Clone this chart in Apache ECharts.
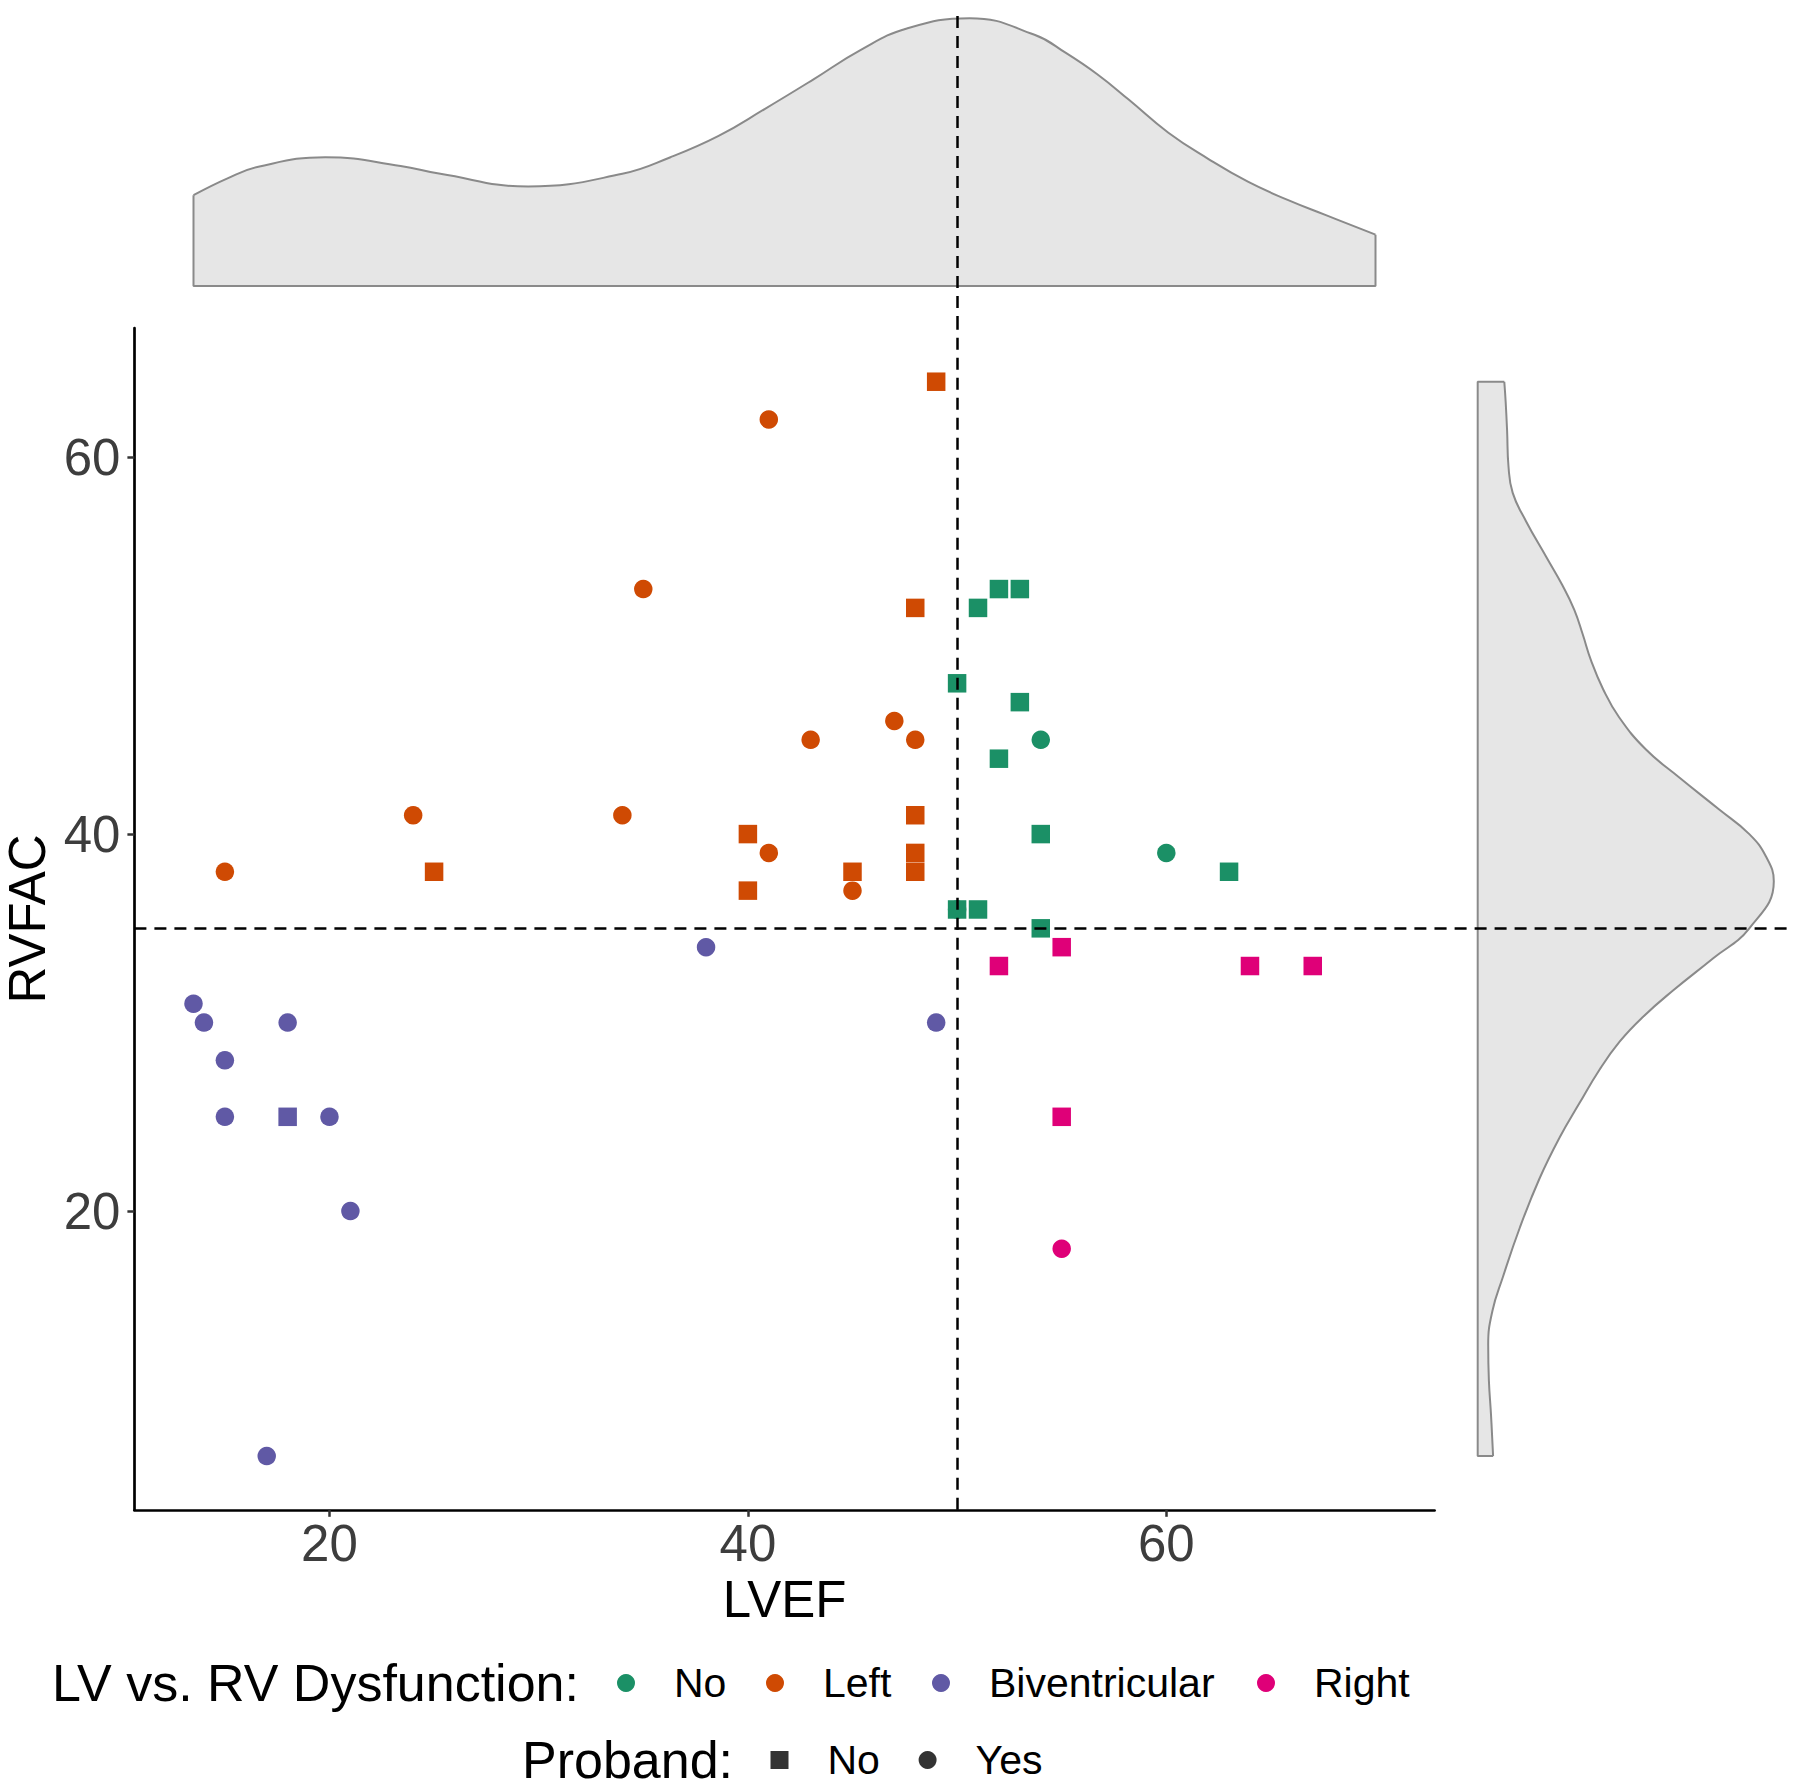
<!DOCTYPE html>
<html>
<head>
<meta charset="utf-8">
<script src="https://cdn.jsdelivr.net/npm/echarts@6/dist/echarts.min.js"></script>
<style>
html,body{margin:0;padding:0;background:#fff;}
#chart{width:1800px;height:1788px;}
</style>
</head>
<body>
<div id="chart"></div>
<script>
// ---------- data (LVEF, RVFAC) ----------
const groupNames = ['No', 'Left', 'Biventricular', 'Right'];
const groupColors = ['#1B9066', '#CF4A03', '#6059A5', '#DF0078'];

// Proband "No" -> squares, Proband "Yes" -> circles
const noDysSquares = [[50,48],[51,52],[52,53],[53,53],[53,47],[52,44],[54,40],[50,36],[51,36],[54,35],[63,38]];
const noDysCircles = [[54,45],[60,39],[50,36]];
const leftSquares = [[49,64],[48,52],[48,41],[48,39],[48,38],[45,38],[40,40],[40,37],[25,38]];
const leftCircles = [[41,62],[35,53],[43,45],[47,46],[48,45],[24,41],[34,41],[41,39],[45,37],[15,38]];
const biSquares = [[18,25]];
const biCircles = [[38,34],[49,30],[13.5,31],[14,30],[18,30],[15,28],[15,25],[20,25],[21,20],[17,7]];
const rightSquares = [[52,33],[55,34],[64,33],[67,33],[55,25]];
const rightCircles = [[55,18]];

const xTicks = [20, 40, 60];
const yTicks = [20, 40, 60];
const cutLVEF = 50;
const cutRVFAC = 35;

// marginal density of LVEF (x, density)
const lvefDensX = [13.5,15.1,16.6,19.8,23.4,25.3,29.5,34.0,36.3,38.6,40.8,43.1,45.4,47.6,50.6,53.7,55.2,56.7,58.2,60.1,62.0,63.9,65.8,67.6,70.0];
const lvefDensY = [0.0115,0.0136,0.0151,0.0163,0.0152,0.0142,0.0126,0.0142,0.0163,0.0190,0.0224,0.0261,0.0299,0.0326,0.0339,0.0318,0.0295,0.0268,0.0236,0.0194,0.0161,0.0132,0.0109,0.0090,0.0065];

// marginal density of RVFAC (rvfac, density)
const rvfacDensY = [64.0,62.9,61.4,59.5,58.1,56.6,54.7,53.2,51.9,50.6,49.2,47.7,46.2,44.5,43.0,41.3,40.0,38.8,37.5,35.0,33.4,31.7,30.3,29.0,27.5,25.7,23.9,21.7,19.1,16.5,14.7,12.9,11.0,9.2,7.0];
const rvfacDensX = [0.0038,0.0040,0.0042,0.0044,0.0050,0.0069,0.0098,0.0121,0.0138,0.0150,0.0162,0.0179,0.0202,0.0240,0.0288,0.0345,0.0388,0.0412,0.0423,0.0388,0.0336,0.0279,0.0236,0.0203,0.0174,0.0145,0.0117,0.0088,0.0060,0.0036,0.0021,0.0015,0.0016,0.0019,0.0022];

// ---------- chart ----------
const FONT = '"Liberation Sans", Arial, Helvetica, sans-serif';
const SYM = 18.5;
const dashStyle = {type: [12, 8], color: '#000', width: 2.5};
const densLine = {color: '#8A8A8A', width: 2};
const densFill = {color: '#E6E6E6', opacity: 1};

const chart = echarts.init(document.getElementById('chart'), null, {renderer: 'svg', width: 1800, height: 1788});

function groupSeries(idx, circles, squares, extra) {
  return Object.assign({
    name: groupNames[idx],
    type: 'scatter',
    xAxisIndex: 0, yAxisIndex: 0,
    symbolSize: SYM,
    silent: true,
    itemStyle: {color: groupColors[idx], opacity: 1},
    emphasis: {disabled: true},
    data: circles.map(p => ({value: p, symbol: 'circle'}))
      .concat(squares.map(p => ({value: p, symbol: 'rect'})))
  }, extra || {});
}

function legendItem(name, icon, left, top) {
  return {
    data: [{name: name, icon: icon}],
    left: left, top: top, padding: 0,
    itemWidth: 18, itemHeight: 18, itemGap: 0,
    selectedMode: false,
    formatter: n => n.replace('Proband ', ''),
    textStyle: {fontSize: 41, fontFamily: FONT, color: '#000', lineHeight: 48, padding: [0, 0, 0, 34]}
  };
}

const lastTop = lvefDensX.length - 1;
const lastRight = rvfacDensY.length - 1;

const option = {
  animation: false,
  backgroundColor: '#fff',
  title: [
    {text: 'LV vs. RV Dysfunction:', left: 52, top: 1653, padding: 0,
     textStyle: {fontSize: 52, fontWeight: 'normal', color: '#000', fontFamily: FONT, lineHeight: 60}},
    {text: 'Proband:', left: 522, top: 1730, padding: 0,
     textStyle: {fontSize: 52, fontWeight: 'normal', color: '#000', fontFamily: FONT, lineHeight: 60}}
  ],
  legend: [
    legendItem('No', 'circle', 617, 1659),
    legendItem('Left', 'circle', 766, 1659),
    legendItem('Biventricular', 'circle', 932, 1659),
    legendItem('Right', 'circle', 1257, 1659),
    legendItem('Proband No', 'rect', 770.5, 1736),
    legendItem('Proband Yes', 'circle', 918.6, 1736)
  ],
  grid: [
    {left: 134.4, right: 365.4, top: 328, bottom: 278.2, outerBoundsMode: 'none'},
    {left: 134.4, right: 365.4, top: 12, height: 316, outerBoundsMode: 'none'},
    {left: 1434.6, right: 11, top: 328, bottom: 278.2, outerBoundsMode: 'none'}
  ],
  xAxis: [
    {gridIndex: 0, type: 'value', min: 10.675, max: 72.825,
     name: 'LVEF', nameLocation: 'middle', nameGap: 61,
     nameTextStyle: {fontSize: 51, color: '#000', fontFamily: FONT, lineHeight: 51},
     axisLine: {show: true, onZero: false, lineStyle: {color: '#000', width: 2.7}},
     axisTick: {show: true, customValues: xTicks, length: 7, lineStyle: {color: '#333', width: 2.5}},
     axisLabel: {show: true, customValues: xTicks, fontSize: 51, color: '#3D3D3D', fontFamily: FONT, margin: 8, lineHeight: 51},
     splitLine: {show: false}},
    {gridIndex: 1, type: 'value', min: 10.675, max: 72.825, show: false, splitLine: {show: false}},
    {gridIndex: 2, type: 'value', min: -0.006157, max: 0.04447, show: false, splitLine: {show: false}}
  ],
  yAxis: [
    {gridIndex: 0, type: 'value', min: 4.15, max: 66.85,
     name: 'RVFAC', nameLocation: 'middle', nameGap: 74, nameRotate: 90,
     nameTextStyle: {fontSize: 51, color: '#000', fontFamily: FONT, lineHeight: 51},
     axisLine: {show: true, onZero: false, lineStyle: {color: '#000', width: 2.7}},
     axisTick: {show: true, customValues: yTicks, length: 7, lineStyle: {color: '#333', width: 2.5}},
     axisLabel: {show: true, customValues: yTicks, fontSize: 51, color: '#3D3D3D', fontFamily: FONT, margin: 14},
     splitLine: {show: false}},
    {gridIndex: 1, type: 'value', min: -0.005316, max: 0.034684, show: false, splitLine: {show: false}},
    {gridIndex: 2, type: 'time', min: 4.15, max: 66.85, show: false, splitLine: {show: false}}
  ],
  series: [
    // top marginal density
    {type: 'line', xAxisIndex: 1, yAxisIndex: 1, silent: true, symbol: 'none', smooth: 0.45,
     data: lvefDensX.map((x, i) => [x, lvefDensY[i]]),
     lineStyle: densLine, areaStyle: densFill,
     markLine: {silent: true, symbol: 'none', label: {show: false}, lineStyle: dashStyle, data: [{xAxis: cutLVEF}]}},
    {type: 'line', xAxisIndex: 1, yAxisIndex: 1, silent: true, symbol: 'none',
     data: [[lvefDensX[0], lvefDensY[0]], [lvefDensX[0], 0], [lvefDensX[lastTop], 0], [lvefDensX[lastTop], lvefDensY[lastTop]]],
     lineStyle: densLine},
    // right marginal density
    {type: 'line', xAxisIndex: 2, yAxisIndex: 2, silent: true, symbol: 'none', smooth: 0.45,
     data: rvfacDensY.map((y, i) => [rvfacDensX[i], y]),
     lineStyle: densLine, areaStyle: densFill,
     markLine: {silent: true, symbol: 'none', label: {show: false}, lineStyle: dashStyle, data: [{yAxis: cutRVFAC}]}},
    {type: 'line', xAxisIndex: 2, yAxisIndex: 2, silent: true, symbol: 'none',
     data: [[rvfacDensX[0], rvfacDensY[0]], [0, rvfacDensY[0]], [0, rvfacDensY[lastRight]], [rvfacDensX[lastRight], rvfacDensY[lastRight]]],
     lineStyle: densLine},
    // scatter groups
    groupSeries(0, noDysCircles, noDysSquares, {
      markLine: {silent: true, symbol: 'none', label: {show: false}, lineStyle: dashStyle, z: 10,
                 data: [{xAxis: cutLVEF}, {yAxis: cutRVFAC}]}
    }),
    groupSeries(1, leftCircles, leftSquares),
    groupSeries(2, biCircles, biSquares),
    groupSeries(3, rightCircles, rightSquares),
    // proband shape legend entries
    {name: 'Proband No', type: 'scatter', xAxisIndex: 0, yAxisIndex: 0, data: [], itemStyle: {color: '#000'}},
    {name: 'Proband Yes', type: 'scatter', xAxisIndex: 0, yAxisIndex: 0, data: [], itemStyle: {color: '#000'}}
  ]
};
chart.setOption(option);
</script>
</body>
</html>
